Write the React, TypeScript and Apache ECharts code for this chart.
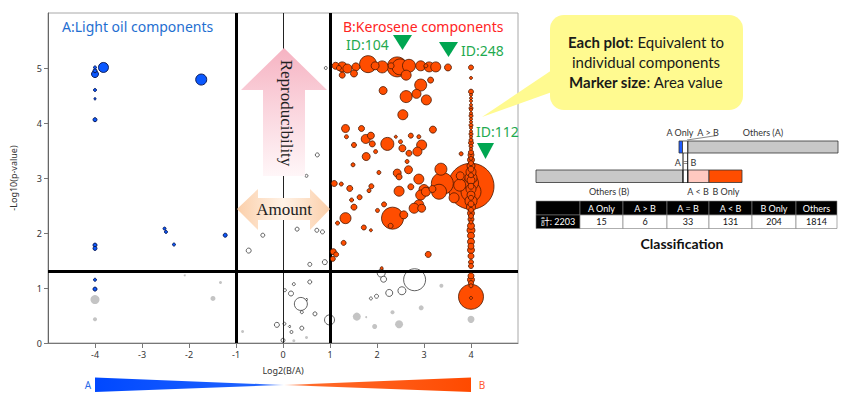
import React, { useEffect, useRef } from "react";
import * as echarts from "echarts";

// ---------- data ----------
const xTicks = [-4, -3, -2, -1, 0, 1, 2, 3, 4];
const yTicks = [0, 1, 2, 3, 4, 5];
const capValue = 4; // log2 ratio capped at +/-4

// [log2(B/A), -log10(p), area]
const aOnlyPoints = [
  [-4, 5.01, 9], [-4, 4.95, 16], [-4, 4.89, 49], [-3.82, 5.01, 100], [-1.74, 4.79, 121],
  [-4, 4.6, 9], [-4, 4.44, 5], [-4, 4.06, 16], [-2.52, 2.08, 9], [-2.49, 2.02, 9],
  [-2.32, 1.79, 9], [-1.23, 1.96, 16], [-4, 1.78, 16], [-4, 1.72, 16], [-4, 1.15, 9], [-4, 0.98, 16],
];

const bPoints = [
  [1.12, 5.04, 49], [1.26, 5.02, 100], [1.37, 4.99, 81], [1.55, 5.02, 64], [1.81, 5.07, 289],
  [2.11, 5.02, 144], [2.43, 5.02, 400], [2.49, 5.02, 256], [2.68, 5.04, 169], [2.93, 5.04, 100],
  [3.11, 5.02, 100], [3.25, 5.02, 100], [3.51, 5.01, 49], [1.19, 5.0, 25], [2.3, 5.04, 36],
  [3.04, 5.04, 16], [1.96, 5.04, 64],
  [1.26, 4.87, 36], [1.51, 4.9, 49], [2.62, 4.87, 100], [2.93, 4.69, 144], [3.14, 4.78, 36],
  [2.13, 4.59, 64], [2.62, 4.48, 144], [2.84, 4.53, 81], [3.05, 4.42, 100], [2.55, 4.15, 100],
  [1.33, 3.9, 64], [1.67, 3.9, 36], [3.19, 3.88, 49], [1.35, 3.75, 16], [1.76, 3.71, 81],
  [1.87, 3.77, 49], [1.51, 3.6, 25], [2.22, 3.62, 169], [1.9, 3.62, 36], [2.4, 3.75, 9],
  [2.72, 3.77, 25], [2.89, 3.75, 16], [2.95, 3.6, 100], [2.5, 3.66, 16], [2.54, 3.54, 49],
  [2.86, 3.48, 81], [2.68, 3.45, 36], [2.64, 3.3, 16], [1.77, 3.39, 64], [1.97, 3.48, 16],
  [1.49, 3.24, 16], [2.04, 3.1, 16], [2.43, 3.09, 64], [2.47, 3.02, 36], [2.67, 3.15, 64],
  [3.36, 3.16, 144], [2.89, 2.98, 100], [1.09, 2.9, 36], [1.24, 2.89, 16], [1.42, 2.81, 36],
  [1.88, 2.85, 25], [1.83, 2.77, 16], [2.72, 2.84, 36], [2.47, 2.76, 100], [3.0, 2.79, 100],
  [3.04, 2.75, 81], [2.93, 2.69, 100], [3.18, 2.8, 49], [3.39, 2.9, 484], [3.32, 2.75, 225],
  [1.63, 2.65, 25], [1.46, 2.6, 16], [2.15, 2.52, 25], [1.51, 2.47, 36], [2.01, 2.41, 16],
  [2.89, 2.51, 100], [2.79, 2.45, 100], [2.95, 2.45, 64], [2.33, 2.27, 484], [2.57, 2.33, 64],
  [2.29, 2.13, 25], [1.33, 2.27, 121], [1.72, 2.1, 25], [1.87, 2.05, 9], [1.16, 2.18, 16],
  [1.29, 1.82, 25], [1.07, 1.66, 36], [1.13, 1.61, 25], [1.06, 1.53, 25], [3.09, 1.61, 36],
  [2.1, 1.36, 9], [3.79, 3.44, 16], [3.64, 2.64, 100], [3.77, 3.04, 64], [3.76, 2.87, 144],
];

// B-only components at the cap (x = 4): [-log10(p), area]
const bCapped = [
  [5.01, 25], [4.82, 9], [4.57, 25], [4.51, 9], [4.45, 9], [4.4, 9], [4.33, 9], [4.27, 16],
  [4.24, 9], [4.18, 9], [4.13, 16], [4.07, 9], [4.02, 9], [3.96, 16], [3.91, 9], [3.85, 9],
  [3.8, 16], [3.75, 9], [3.69, 16], [3.64, 25], [3.58, 16], [3.53, 9], [3.47, 25], [3.42, 36],
  [3.36, 16], [3.33, 49], [3.27, 25], [3.22, 64], [3.16, 36], [3.11, 100], [3.05, 25], [3.0, 144],
  [2.96, 64], [2.91, 225], [2.85, 2116], [2.85, 36], [2.8, 100], [2.75, 400], [2.69, 64],
  [2.64, 25], [2.58, 144], [2.53, 36], [2.47, 81], [2.42, 25], [2.36, 49], [2.31, 25], [2.25, 36],
  [2.2, 16], [2.13, 49], [2.05, 64], [1.95, 49], [1.84, 49], [1.76, 36], [1.69, 49], [1.58, 36],
  [1.47, 25], [1.4, 25], [1.22, 36], [1.15, 49], [1.09, 25], [1.04, 16], [0.84, 625], [0.82, 9],
];

const equalPoints = [
  [0.91, 5.0, 9], [0.73, 3.42, 16], [0.5, 3.04, 9], [0.3, 2.07, 16], [0.72, 2.05, 16],
  [0.84, 2.02, 16], [-0.43, 1.96, 16], [-0.73, 1.68, 25], [0.57, 1.43, 16], [0.89, 1.47, 25],
  [0.23, 1.07, 9], [0.57, 1.11, 16], [0.04, 0.96, 9], [0.17, 0.9, 25], [0.38, 0.71, 169],
  [0.4, 0.56, 9], [0.68, 0.53, 16], [-0.13, 0.33, 25], [0.03, 0.35, 9], [0.18, 0.2, 9],
  [0.4, 0.27, 16], [0.0, 0.05, 16], [0.99, 0.42, 100], [2.09, 1.27, 64], [2.14, 1.16, 36],
  [2.8, 1.15, 484], [2.53, 0.95, 64], [2.26, 0.91, 49], [1.99, 0.85, 16], [1.87, 0.81, 9],
  [0.14, 0.3, 4], [0.5, 0.79, 4],
];

const otherPoints = [
  [-4, 0.79, 81], [-4, 0.43, 16], [-2.09, 1.23, 4], [-1.33, 1.1, 9], [-1.49, 0.81, 25],
  [-0.86, 0.21, 9], [0.23, 0.04, 9], [0.5, 0.1, 9], [1.57, 0.48, 64], [1.77, 0.47, 4],
  [1.95, 0.3, 25], [2.33, 0.56, 16], [2.47, 0.34, 64], [2.94, 0.64, 25], [3.37, 1.04, 16],
  [4, 0.43, 49],
];

const pThreshold = 1.301; // -log10(0.05)
const foldLines = [-1, 1];

const classLabels = ["A Only", "A > B", "A = B", "A < B", "B Only", "Others"];
const classCounts = [15, 6, 33, 131, 204, 1814];
const totalLabel = "計: 2203";

const callouts = [
  { id: "ID:104" },
  { id: "ID:248" },
  { id: "ID:112" },
];

// ---------- component ----------
export default function App() {
  const ref = useRef<HTMLDivElement>(null);

  useEffect(() => {
    if (!ref.current) return;
    const chart = echarts.init(ref.current, undefined, { renderer: "svg" });

    const size = (v: number[]) => Math.sqrt(v[2]);
    const orange = [
      ...bPoints,
      ...bCapped.map((p) => [capValue, p[0], p[1]]),
    ].sort((a, b) => b[2] - a[2]);
    const sortDesc = (arr: number[][]) => [...arr].sort((a, b) => b[2] - a[2]);

    const sans = '"Noto Sans", sans-serif';
    const small = 'Lato, "Noto Sans CJK JP", sans-serif';
    const serif = '"Liberation Serif", serif';
    const green = "#1faa4f";
    const LG = echarts.graphic.LinearGradient;

    const graphic: any[] = [];

    const label14 = (text: string, x: number, y: number, fill: string) => ({
      type: "text", x, y, z: 50,
      style: { text, fill, fontSize: 14, fontFamily: "Noto Sans", lineHeight: 14, textAlign: "left", textVerticalAlign: "middle" },
    });

    // titles
    graphic.push(
      label14("A:Light oil components", 62, 26.5, "#1f6fd1"),
      label14("B:Kerosene components", 343, 26.5, "#ff2424"),
    );

    // ID markers
    graphic.push(
      label14(callouts[0].id, 346, 44, green),
      { type: "polygon", z: 50, shape: { points: [[393, 35], [412, 35], [402.5, 50]] }, style: { fill: "#00a651" } },
      label14(callouts[1].id, 461, 50.5, green),
      { type: "polygon", z: 50, shape: { points: [[439, 42], [458, 42], [448.5, 57]] }, style: { fill: "#00a651" } },
      label14(callouts[2].id, 476, 131.5, green),
      { type: "polygon", z: 50, shape: { points: [[477, 143], [494, 143], [485.5, 159]] }, style: { fill: "#00a651" } },
    );

    // Reproducibility arrow
    graphic.push(
      {
        type: "polygon", z: 40,
        shape: { points: [[284, 48], [327, 90], [305, 90], [305, 176], [263, 176], [263, 90], [241, 90]] },
        style: { fill: new LG(0, 0, 0, 1, [{ offset: 0, color: "#f6b3c2" }, { offset: 0.45, color: "#fad3dc" }, { offset: 1, color: "#fff6f8" }]) },
      },
      { type: "text", x: 286, y: 113, rotation: -Math.PI / 2, z: 41, style: { text: "Reproducibility", fill: "#222", font: `17px ${serif}`, textAlign: "center", textVerticalAlign: "middle" } },
    );

    // Amount arrow
    graphic.push(
      {
        type: "polygon", z: 40,
        shape: { points: [[237, 209], [258, 189], [258, 198], [310, 198], [310, 189], [330, 209], [310, 230], [310, 220], [258, 220], [258, 230]] },
        style: { fill: new LG(0, 0, 1, 0, [{ offset: 0, color: "#fbcfaa" }, { offset: 0.5, color: "#fff2e6" }, { offset: 1, color: "#fbcfaa" }]) },
      },
      { type: "text", x: 284, y: 209, z: 41, style: { text: "Amount", fill: "#222", font: `17px ${serif}`, textAlign: "center", textVerticalAlign: "middle" } },
    );

    // callout bubble
    const bubble = "#fffa90";
    graphic.push(
      { type: "polygon", z: 30, shape: { points: [[552, 70], [482, 117], [552, 92]] }, style: { fill: bubble } },
      { type: "rect", z: 30, shape: { x: 550, y: 15, width: 193, height: 95, r: 14 }, style: { fill: bubble } },
    );
    const bubbleLines = ["{b|Each plot}: Equivalent to", "individual components", "{b|Marker size}: Area value"];
    bubbleLines.forEach((t, i) => {
      graphic.push({
        type: "text", x: 646, y: 42 + i * 20, z: 31,
        style: {
          text: t, fill: "#1a1a1a", fontSize: 15, fontFamily: "Lato", textAlign: "center", textVerticalAlign: "middle",
          rich: { b: { fontWeight: "bold", fontSize: 15, fontFamily: "Lato", fill: "#1a1a1a" } },
        },
      });
    });

    // classification diagram
    const lbl = (text: string, x: number, y: number, fill = "#333", weight = "normal", fs = 9) => ({
      type: "text", x, y, z: 31,
      style: { text, fill, font: `${weight} ${fs}px ${small}`, textAlign: "center", textVerticalAlign: "middle" },
    });
    const box = (x: number, y: number, w: number, h: number, fill: string, stroke = "#333") => ({
      type: "rect", z: 30, shape: { x, y, width: w, height: h }, style: { fill, stroke, lineWidth: 0.8 },
    });
    graphic.push(
      lbl(classLabels[0], 680, 132.5),
      lbl(classLabels[1], 708, 132.5),
      lbl("Others (A)", 763, 132.5),
      { type: "line", z: 31, shape: { x1: 687, y1: 140, x2: 717, y2: 135.5 }, style: { stroke: "#555", lineWidth: 0.7 } },
      box(679, 141, 3.5, 12, "#1f5cff"),
      box(682.5, 141, 5, 12, "#ffffff"),
      box(688, 141, 150, 12, "#c8c8c8"),
      lbl(classLabels[2], 685.5, 162),
      box(536, 170, 147, 12.5, "#c8c8c8"),
      box(683, 170, 5, 12.5, "#ffffff"),
      box(688, 170, 21, 12.5, "#ffc9c0"),
      box(709, 170, 33, 12.5, "#ff4d00"),
      { type: "line", z: 32, shape: { x1: 683, y1: 153, x2: 683, y2: 183 }, style: { stroke: "#111", lineWidth: 1 } },
      { type: "line", z: 32, shape: { x1: 687.7, y1: 153, x2: 687.7, y2: 183 }, style: { stroke: "#111", lineWidth: 1 } },
      lbl("Others (B)", 609, 191.7),
      lbl(classLabels[3], 698, 191.7),
      lbl(classLabels[4], 726, 191.7),
    );
    const colX = [536, 580, 623, 667, 709, 752, 796, 837];
    for (let i = 0; i < 7; i++) {
      const x = colX[i];
      const w = colX[i + 1] - colX[i];
      graphic.push({ type: "rect", z: 30, shape: { x, y: 201, width: w, height: 14 }, style: { fill: "#000", stroke: "#888", lineWidth: 0.6 } });
      graphic.push({ type: "rect", z: 30, shape: { x, y: 215, width: w, height: 13.5 }, style: { fill: i === 0 ? "#000" : "#fff", stroke: "#777", lineWidth: 0.6 } });
      if (i > 0) {
        graphic.push(lbl(classLabels[i - 1], x + w / 2, 208, "#fff"));
        graphic.push(lbl(String(classCounts[i - 1]), x + w / 2, 221.8, "#111"));
      } else {
        graphic.push(lbl(totalLabel, x + w / 2, 221.8, "#fff"));
      }
    }
    graphic.push(lbl("Classification", 682, 243, "#111", "bold", 14));

    // direction wedges under the x axis
    graphic.push(
      {
        type: "polygon", z: 30, shape: { points: [[95, 377.5], [284, 385], [95, 392]] },
        style: { fill: new LG(0, 0, 1, 0, [{ offset: 0, color: "#0048ff" }, { offset: 0.85, color: "#1f63ff" }, { offset: 1, color: "#8aa9ff" }]) },
      },
      {
        type: "polygon", z: 30, shape: { points: [[284, 385], [471, 377.5], [471, 392]] },
        style: { fill: new LG(0, 0, 1, 0, [{ offset: 0, color: "#ffb090" }, { offset: 0.15, color: "#ff6a2a" }, { offset: 1, color: "#ff4a00" }]) },
      },
      { type: "text", x: 88, y: 385, z: 30, style: { text: "A", fill: "#2a6ae8", font: `10px ${sans}`, textAlign: "center", textVerticalAlign: "middle" } },
      { type: "text", x: 482, y: 385, z: 30, style: { text: "B", fill: "#ff5a30", font: `10px ${sans}`, textAlign: "center", textVerticalAlign: "middle" } },
    );

    const xFmt = (v: number) => (v <= -5 || v >= 5 ? "" : String(v));
    const yFmt = (v: number) => (v >= 6 ? "" : String(v));

    const option: any = {
      animation: false,
      grid: { left: 48, top: 13, width: 470, height: 330, show: true, borderColor: "#a8a8a8", borderWidth: 1, backgroundColor: "#fff" },
      xAxis: {
        type: "value", min: -5, max: 5, interval: 1,
        name: "Log2(B/A)", nameLocation: "middle", nameGap: 23,
        nameTextStyle: { fontSize: 9, color: "#333", fontFamily: sans },
        axisLine: { show: true, onZero: false, lineStyle: { color: "#777" } },
        axisTick: { show: true, length: 5, customValues: xTicks, lineStyle: { color: "#777" } },
        axisLabel: { fontSize: 9, color: "#333", margin: 7, fontFamily: sans, customValues: xTicks, formatter: xFmt },
        splitLine: { show: false },
      },
      yAxis: {
        type: "value", min: 0, max: 6, interval: 1,
        name: "-Log10(p-value)", nameLocation: "middle", nameGap: 30, nameRotate: 90,
        nameTextStyle: { fontSize: 9, color: "#333", fontFamily: sans },
        axisLine: { show: true, onZero: false, lineStyle: { color: "#666" } },
        axisTick: { show: true, length: 4, customValues: yTicks, lineStyle: { color: "#777" } },
        axisLabel: { fontSize: 9, color: "#333", margin: 6, fontFamily: sans, customValues: yTicks, formatter: yFmt },
        splitLine: { show: false },
      },
      series: [
        {
          type: "scatter", name: "Others", data: sortDesc(otherPoints), symbolSize: size, z: 2,
          itemStyle: { color: "#c4c4c4", opacity: 1 },
        },
        {
          type: "scatter", name: "A = B", data: sortDesc(equalPoints), symbolSize: size, z: 3,
          itemStyle: { color: "rgba(255,255,255,0.9)", borderColor: "#3a3a3a", borderWidth: 0.8, opacity: 1 },
        },
        {
          type: "scatter", name: "A", data: sortDesc(aOnlyPoints), symbolSize: size, z: 4,
          itemStyle: { color: "#0a58ff", borderColor: "#0b1c5a", borderWidth: 1, opacity: 1 },
        },
        {
          type: "scatter", name: "B", data: orange, symbolSize: size, z: 5,
          itemStyle: { color: "#ff4d00", borderColor: "#4a1800", borderWidth: 0.8, opacity: 1 },
        },
        {
          type: "scatter", name: "guides", data: [[0, pThreshold, 0]], symbolSize: 0, z: 10, silent: true,
          markLine: {
            silent: true, symbol: ["none", "none"], label: { show: false }, animation: false,
            data: [
              { xAxis: 0, lineStyle: { color: "#222", width: 1, type: "solid" } },
              ...foldLines.map((v) => ({ xAxis: v, lineStyle: { color: "#000", width: 3, type: "solid" } })),
              { yAxis: pThreshold, lineStyle: { color: "#000", width: 3, type: "solid" } },
            ],
          },
        },
      ],
      graphic,
    };

    chart.setOption(option);
    return () => chart.dispose();
  }, []);

  return <div ref={ref} style={{ position: "fixed", left: 0, top: 0, width: 850, height: 398, background: "#fff" }} />;
}
